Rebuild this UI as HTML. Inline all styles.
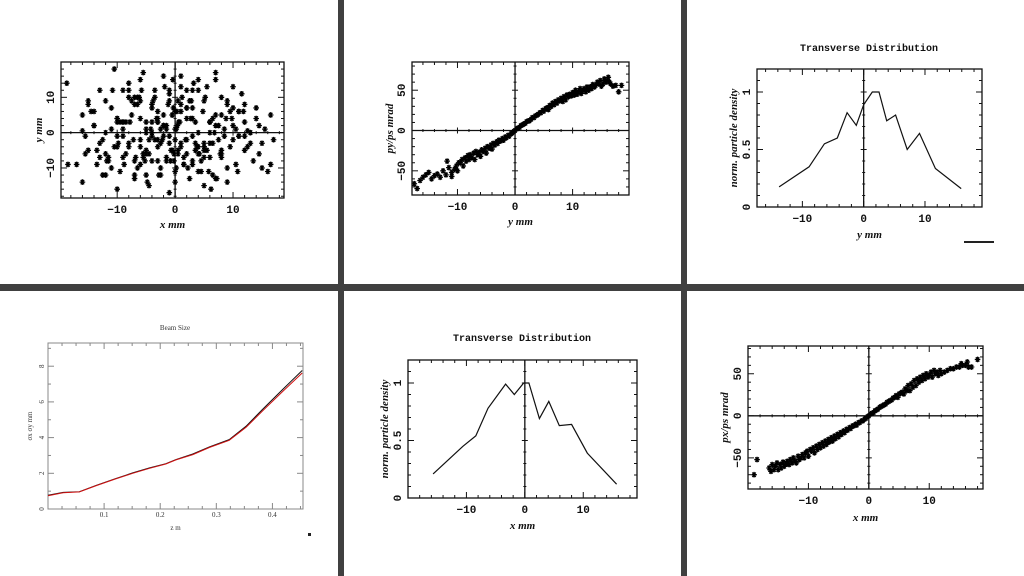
<!DOCTYPE html>
<html><head><meta charset="utf-8"><style>
html,body{margin:0;padding:0;background:#fff}
svg{display:block}
.tk{font-family:"Liberation Mono",monospace;font-weight:bold;font-size:11px;fill:#111}
.tt{font-family:"Liberation Serif",serif;font-style:italic;font-weight:bold;font-size:11px;fill:#111}
.ti{font-family:"Liberation Mono",monospace;font-weight:bold;font-size:10px;fill:#111}
.sm{font-family:"Liberation Serif",serif;font-size:7px;fill:#333}
</style></head><body>
<svg id="fig" width="1024" height="576" viewBox="0 0 1024 576">
<rect width="1024" height="576" fill="#fff"/>
<rect x="338" y="0" width="6" height="576" fill="#404040"/>
<rect x="681" y="0" width="6" height="576" fill="#404040"/>
<rect x="0" y="284" width="1024" height="7" fill="#404040"/>
<rect x="964" y="241" width="30" height="2" fill="#222"/>
<rect x="308" y="533" width="3" height="3" fill="#222"/>
</svg>
<script>
// ---- data ----
const scatterXY_x=[-18.5,-16,-15.5,-15,-14,-13.5,-13,-12.5,-12,-11.5,-11,-10.5,-10,-10,-9.5,-9,-9,-8.5,-8,-8,-7.5,-7,-7,-6.5,-6,-6,-5.5,-5,-5,-4.5,-4,-4,-3.5,-3,-3,-2.5,-2,-2,-1.5,-1,-1,-0.5,0,0,0.5,1,1,1.5,2,2,2.5,3,3,3.5,4,4,4.5,5,5,5.5,6,6,6.5,7,7,7.5,8,8,8.5,9,9,9.5,10,10,10.5,11,11,11.5,12,12.5,13,13.5,14,14.5,15,15.5,16,16.5,17,-16,-14,-12,-10,-8,-6,-4,-2,0,2,4,6,8,10,12,14,-15,-13,-11,-9,-7,-5,-3,-1,1,3,5,7,9,11,13,15,-17,-6,-3,1,4,-9,-5,-2,2,6,-7,-4,0,3,8,-1,5,-10,-12,7,-8,-18.7,12,-3,-0.3,0.4,-5.5,3.5,-1.5,2.7,-4,5,-6.5,6.5,-2.5,1.5,
 -16,-15,-14,-13,-12,-11,-10,-9,-8,-7,
 -6,-5,-4,-3,-2,-1,0,1,2,3,
 4,5,6,7,8,9,10,11,12,13,
 -15.5,-13.5,-11.5,-9.5,-7.5,-5.5,-3.5,-1.5,0.5,2.5,
 4.5,6.5,8.5,10.5,12.5,14.5,16.5,-14.5,-12.5,-10.5,
 -8.5,-6.5,-4.5,-2.5,-0.5,1.5,3.5,5.5,7.5,9.5,
 -7.2,-6.2,-5.2,-4.2,-3.2,-2.2,-1.2,-0.2,0.8,1.8,
 2.8,3.8,4.8,5.8,6.8,7.8,8.8,9.8,10.8,11.8,
 -11.8,-10.8,-9.8,-8.8,-7.8,-6.8,-5.8,-4.8,-3.8,-2.8,
 -1.8,-0.8,0.2,1.2,2.2,3.2,4.2,5.2,6.2,7.2,
 0.3,-0.4,0.6,-0.7,1,-1,0.2,-0.2,0.5,-0.5,
 -6,-5.5,-5,-4.5,-4,-3.5,-3,-2.5,-2,-1.5,
 2,3,4,5,6,-9,-10,-11,-12,-13];
const scatterXY_y=[-9,0.5,-6,9,6,-9,12,-2,0,-7,7,18,4,-16,-11,12,1,-6,14,-4,5,-13,-8,10,-9,-2,17,3,-6,-15,8,-1,12,-4,6,-10,16,2,-7,11,-17,5,-14,1,9,-3,16,-9,4,12,-13,-1,7,-5,15,0,-11,9,-3,13,-7,3,-12,17,5,-2,10,-6,1,-14,8,-4,13,2,-9,6,-1,11,3,-4,0,-8,7,-6,-10,1,-11,5,-2,-14,2,-6,4,-3,9,-8,5,-2,7,-11,3,-5,7,-1,4,8,-7,1,3,10,-12,4,-1,13,-8,-5,2,-10,6,0,-3,-9,15,3,6,-4,-1,0,2,-6,-3,8,3,-11,12,-7,9,-15,-1,-12,15,12,14,-5,-2,7,2,-6,3,-8,4,0,-4,8,
 4,-3,-7,5,-5,2,-3,9,-10,3,
 -7,10,-12,4,-5,7,-8,2,-3,6,
 -4,7,-9,12,-7,3,-13,5,9,-2,
 -1,8,-3,-1,-5,-8,3,9,-6,10,
 1,-5,9,-8,-3,-1,1,0.5,2,-9,
 6,-12,-4,3,-10,-2,-12,5,-9,-3,
 -5,2,6,-2,10,-8,1,4,-2,8,
 -6,3,-2,9,-4,6,-11,0,-6,4,
 4,-11,6,-8,12,-3,-9,3,-7,12,
 -14,9,-12,13,-8,1,10,-10,14,-6,
 10,-16,-13,6,15,3,-5,8,12,-10,
 -8,-6,-5,-4,-7,1,-6,0,-2,3,
 1,-1,2,-2,4,-6,-4,0,3,-4];
const phaseY_x=[-17.5,-17,-16.5,-16,-15.5,-15,-14.5,-14,-13.5,-13,
 -12.5,-12,-11.8,-11.5,-11,-11,-10.5,-10.2,-10,-9.8,
 -9.5,-9.2,-9,-8.7,-8.5,-8.2,-8,-7.8,-7.5,-7.2,
 -7,-6.8,-6.5,-6.2,-6,-5.8,-5.5,-5.2,-5,-4.8,
 -4.5,-4.2,-4,-3.8,-3.5,-3.2,-3,-2.8,-2.5,-2.2,
 -2,-1.7,-1.5,-1.2,-1,-0.7,-0.5,-0.2,0,0.3,
 0.5,0.8,1,1.3,1.5,1.8,2,2.3,2.5,2.8,
 3,3.3,3.5,3.8,4,4.3,4.5,4.8,5,5.3,
 5.5,5.8,6,6.3,6.5,6.8,7,7.3,7.5,7.8,
 8,8.3,8.5,8.8,9,9.3,9.5,9.8,10,10.3,
 10.5,10.8,11,11.3,11.5,11.8,12,12.3,12.5,12.8,
 13,13.3,13.5,13.8,14,14.3,14.5,14.8,15,15.3,
 15.5,15.8,16,16.2,16.4,16.6,17,17.5,18,18.5];
const phaseY_y=[-66,-72,-62,-58,-55,-52,-60,-56,-54,-58,
 -50,-55,-38,-46,-52,-57,-48,-44,-50,-40,
 -40,-36,-44,-34,-38,-31,-36,-30,-34,-28,
 -36,-26,-30,-27,-32,-24,-26,-22,-28,-20,
 -22,-18,-23,-16,-18,-14,-16,-12,-13,-10,
 -12,-8,-9,-6,-7,-4,-3,-1,0,2,
 3,4,6,7,8,9,11,12,12,14,
 16,16,18,19,20,22,22,25,24,27,
 28,26,31,30,34,32,36,34,38,37,
 40,36,42,38,44,42,45,43,47,44,
 50,45,48,52,46,50,52,48,54,50,
 54,52,57,54,56,60,58,62,55,58,
 64,60,62,66,60,58,55,56,48,56];
const distY_x=[-13.8,-8.9,-6.4,-4.3,-2.7,-1.2,0,1.4,2.5,3.75,5.2,7.1,9.1,11.7,15.9];
const distY_v=[0.175,0.35,0.55,0.60,0.82,0.71,0.89,1.0,1.0,0.75,0.80,0.50,0.64,0.335,0.16];
const beam_z=[0,0.027,0.056,0.086,0.12,0.151,0.181,0.21,0.228,0.258,0.288,0.323,0.353,0.382,0.418,0.453];
const beam_sx=[0.77,0.93,0.97,1.33,1.7,2.02,2.3,2.54,2.77,3.08,3.48,3.89,4.64,5.57,6.69,7.76];
const beam_sy=[0.74,0.91,0.96,1.31,1.68,2.0,2.28,2.52,2.75,3.05,3.45,3.85,4.58,5.48,6.58,7.62];
const distX_x=[-15.7,-10.6,-8.4,-6.3,-3.3,-1.8,-0.2,0.7,2.5,4.1,5.9,8.0,10.7,15.7];
const distX_v=[0.21,0.45,0.54,0.78,0.99,0.90,1.0,1.0,0.69,0.84,0.63,0.64,0.39,0.12];
const phaseX_x=[-19,-18.5,-16.5,-16.2,-16,-15.7,-15.5,-15.2,-15,-14.7,
 -14.5,-14.2,-14,-13.7,-13.5,-13.2,-13,-12.7,-12.5,-12.2,
 -12,-11.7,-11.5,-11.2,-11,-10.7,-10.5,-10.2,-10,-9.7,
 -9.5,-9.2,-9,-8.7,-8.5,-8.2,-8,-7.7,-7.5,-7.2,
 -7,-6.7,-6.5,-6.2,-6,-5.7,-5.5,-5.2,-5,-4.7,
 -4.5,-4.2,-4,-3.7,-3.5,-3.2,-3,-2.7,-2.5,-2.2,
 -2,-1.7,-1.5,-1.2,-1,-0.7,-0.5,-0.2,0,0.3,
 0.5,0.8,1,1.3,1.5,1.8,2,2.3,2.5,2.8,
 3,3.3,3.5,3.8,4,4.3,4.5,4.8,5,5.3,
 5.5,5.8,6,6.3,6.5,6.8,7,7.3,7.5,7.8,
 8,8.3,8.5,8.8,9,9.3,9.5,9.8,10,10.3,
 10.5,10.8,11,11.3,11.5,11.8,12,12.5,13,13.5,
 14,14.5,15,15.3,15.5,16,16.3,16.5,17,18];
const phaseX_y=[-70,-52,-62,-66,-58,-64,-60,-56,-64,-58,
 -62,-55,-60,-57,-54,-58,-52,-56,-50,-54,
 -56,-48,-52,-50,-46,-50,-44,-42,-48,-40,
 -42,-38,-44,-36,-40,-34,-38,-32,-36,-30,
 -34,-28,-31,-26,-30,-24,-27,-22,-25,-20,
 -22,-18,-20,-16,-17,-14,-15,-12,-12,-10,
 -11,-8,-8,-6,-6,-4,-3,-1,0,2,
 3,4,6,7,8,10,11,12,13,14,
 16,17,18,19,21,22,24,22,26,27,
 28,26,32,30,36,30,38,34,42,36,
 44,40,46,42,48,44,50,46,48,52,
 46,54,50,52,48,54,50,52,54,56,
 56,58,58,62,60,60,64,58,58,67];
const ticksPos=[-10,0,10];
const ticksPhase=[-50,0,50];
const ticksDist=[0,0.5,1];
const ticksBeamX=[0.1,0.2,0.3,0.4];
const ticksBeamY=[0,2,4,6,8];

// ---- helpers ----
const NS='http://www.w3.org/2000/svg';
const svg=document.getElementById('fig');
function mk(tag,attrs,parent){const e=document.createElementNS(NS,tag);for(const k in attrs)e.setAttribute(k,attrs[k]);(parent||svg).appendChild(e);return e;}
function scale(d0,d1,r0,r1){return v=>r0+(v-d0)/(d1-d0)*(r1-r0);}
function txt(p,x,y,s,cls,rot,anchor){const t=mk('text',{x:x,y:y,class:cls,'text-anchor':anchor||'middle'},p);if(rot)t.setAttribute('transform','rotate(-90 '+x+' '+y+')');t.textContent=s;return t;}

function panel(name,box,xd,yd,opt){
  const g=mk('g',{});
  
  
  const X=scale(xd[0],xd[1],box.l,box.r), Y=scale(yd[0],yd[1],box.b,box.t);
  const col=opt.frame||'#111', lw=opt.lw||1.3;
  const fr=mk('rect',{x:box.l,y:box.t,width:box.r-box.l,height:box.b-box.t,fill:'none',stroke:col,'stroke-width':lw},g);
  
  
  const tg=mk('g',{stroke:col,'stroke-width':1},g);
  for(let v=Math.ceil(xd[0]/opt.xm)*opt.xm;v<=xd[1]+1e-9;v+=opt.xm){
    const maj=Math.abs(v/opt.xM-Math.round(v/opt.xM))<1e-6, L=maj?6:3, x=X(v);
    mk('line',{x1:x,y1:box.b,x2:x,y2:box.b-L},tg);mk('line',{x1:x,y1:box.t,x2:x,y2:box.t+L},tg);
    if(opt.cross&&yd[0]<0)mk('line',{x1:x,y1:Y(0)-L/2,x2:x,y2:Y(0)+L/2},tg);
  }
  for(let v=Math.ceil(yd[0]/opt.ym)*opt.ym;v<=yd[1]+1e-9;v+=opt.ym){
    const maj=Math.abs(v/opt.yM-Math.round(v/opt.yM))<1e-6, L=maj?6:3, y=Y(v);
    mk('line',{x1:box.l,y1:y,x2:box.l+L,y2:y},tg);mk('line',{x1:box.r,y1:y,x2:box.r-L,y2:y},tg);
    if(opt.vline)mk('line',{x1:X(0)-L/2,y1:y,x2:X(0)+L/2,y2:y},tg);
  }
  if(opt.vline){const l=mk('line',{x1:X(0),y1:box.t,x2:X(0),y2:box.b,stroke:col,'stroke-width':lw},g);}
  if(opt.cross){const l=mk('line',{x1:box.l,y1:Y(0),x2:box.r,y2:Y(0),stroke:col,'stroke-width':lw},g);}
  opt.xt.forEach(v=>{const t=txt(g,X(v),box.b+opt.xlo,String(v).replace('-','\u2212'),opt.tcls||'tk');});
  opt.yt.forEach(v=>{const t=txt(g,box.l-opt.ylo,Y(v),String(v).replace('-','\u2212'),opt.tcls||'tk',true);});
  const xtit=txt(g,(box.l+box.r)/2,box.b+opt.xto,opt.xlabel,opt.tcls2||'tt');
  
  const ytit=txt(g,box.l-opt.yto,(box.t+box.b)/2,opt.ylabel,opt.tcls2||'tt',true);
  
  if(opt.title){const t=txt(g,opt.title[1],opt.title[2],opt.title[0],opt.tcls3||'ti');}
  return {g,X,Y};
}
function stars(p,xs,ys,name){
  const g=mk('g',{stroke:'#000','stroke-width':1.3},p.g);
  
  
  const n=Math.min(xs.length,ys.length);
  for(let i=0;i<n;i++){
    const x=p.X(xs[i]),y=p.Y(ys[i]),r=2.8;
    const s=mk('path',{d:`M${x-r} ${y}H${x+r}M${x-r*0.6} ${y-r*0.8}L${x+r*0.6} ${y+r*0.8}M${x-r*0.6} ${y+r*0.8}L${x+r*0.6} ${y-r*0.8}M${x} ${y-r}V${y+r}`},g);
    
    
  }
}
function line(p,xs,ys,color,w,name){
  const d=xs.map((v,i)=>(i?'L':'M')+p.X(v).toFixed(1)+' '+p.Y(ys[i]).toFixed(1)).join('');
  const l=mk('path',{d:d,fill:'none',stroke:color,'stroke-width':w},p.g);
  
  
}

const p1=panel('xy-scatter-panel',{l:61,r:284,t:62,b:198},[-19.7,18.8],[-18.5,20],
 {xm:2,xM:10,ym:2,yM:10,cross:true,vline:true,xt:ticksPos,yt:[-10,0,10],xlo:15,ylo:7,xto:30,yto:19,xlabel:'x mm',ylabel:'y mm'});
stars(p1,scatterXY_x,scatterXY_y,'xy-points');

const p2=panel('y-py-phase-panel',{l:412,r:629,t:62,b:195},[-17.9,19.8],[-80,85],
 {xm:2,xM:10,ym:10,yM:50,cross:true,vline:true,xt:ticksPos,yt:ticksPhase,xlo:15,ylo:7,xto:30,yto:19,xlabel:'y mm',ylabel:'py/ps mrad'});
stars(p2,phaseY_x,phaseY_y,'y-py-points');

const p3=panel('transverse-y-panel',{l:757,r:982,t:69,b:207},[-17.4,19.3],[0,1.2],
 {xm:2,xM:10,ym:0.1,yM:0.5,vline:true,xt:ticksPos,yt:ticksDist,xlo:15,ylo:7,xto:31,yto:20,xlabel:'y mm',ylabel:'norm. particle density',title:['Transverse Distribution',869,51]});
line(p3,distY_x,distY_v,'#111',1.2,'density-line-y');

const p4=panel('beam-size-panel',{l:48,r:303,t:343,b:509},[0,0.4545],[0,9.3],
 {frame:'#888',lw:1,xm:0.025,xM:0.1,ym:1,yM:2,xt:ticksBeamX,yt:ticksBeamY,xlo:8,ylo:4,xto:21,yto:16,xlabel:'z m',ylabel:'\u03C3x \u03C3y mm',tcls:'sm',tcls2:'sm',tcls3:'sm',title:['Beam Size',175,330]});
line(p4,beam_z,beam_sx,'#111',1,'sigma-x-line');
line(p4,beam_z,beam_sy,'#d01010',1,'sigma-y-line');

const p5=panel('transverse-x-panel',{l:408,r:637,t:360,b:498},[-20,19.2],[0,1.2],
 {xm:2,xM:10,ym:0.1,yM:0.5,vline:true,xt:ticksPos,yt:ticksDist,xlo:15,ylo:7,xto:31,yto:20,xlabel:'x mm',ylabel:'norm. particle density',title:['Transverse Distribution',522,341]});
line(p5,distX_x,distX_v,'#111',1.2,'density-line-x');

const p6=panel('x-px-phase-panel',{l:748,r:983,t:346,b:489},[-20,18.9],[-87,83],
 {xm:2,xM:10,ym:10,yM:50,cross:true,vline:true,xt:ticksPos,yt:ticksPhase,xlo:15,ylo:7,xto:32,yto:20,xlabel:'x mm',ylabel:'px/ps mrad'});
stars(p6,phaseX_x,phaseX_y,'x-px-points');
</script>
</body></html>
